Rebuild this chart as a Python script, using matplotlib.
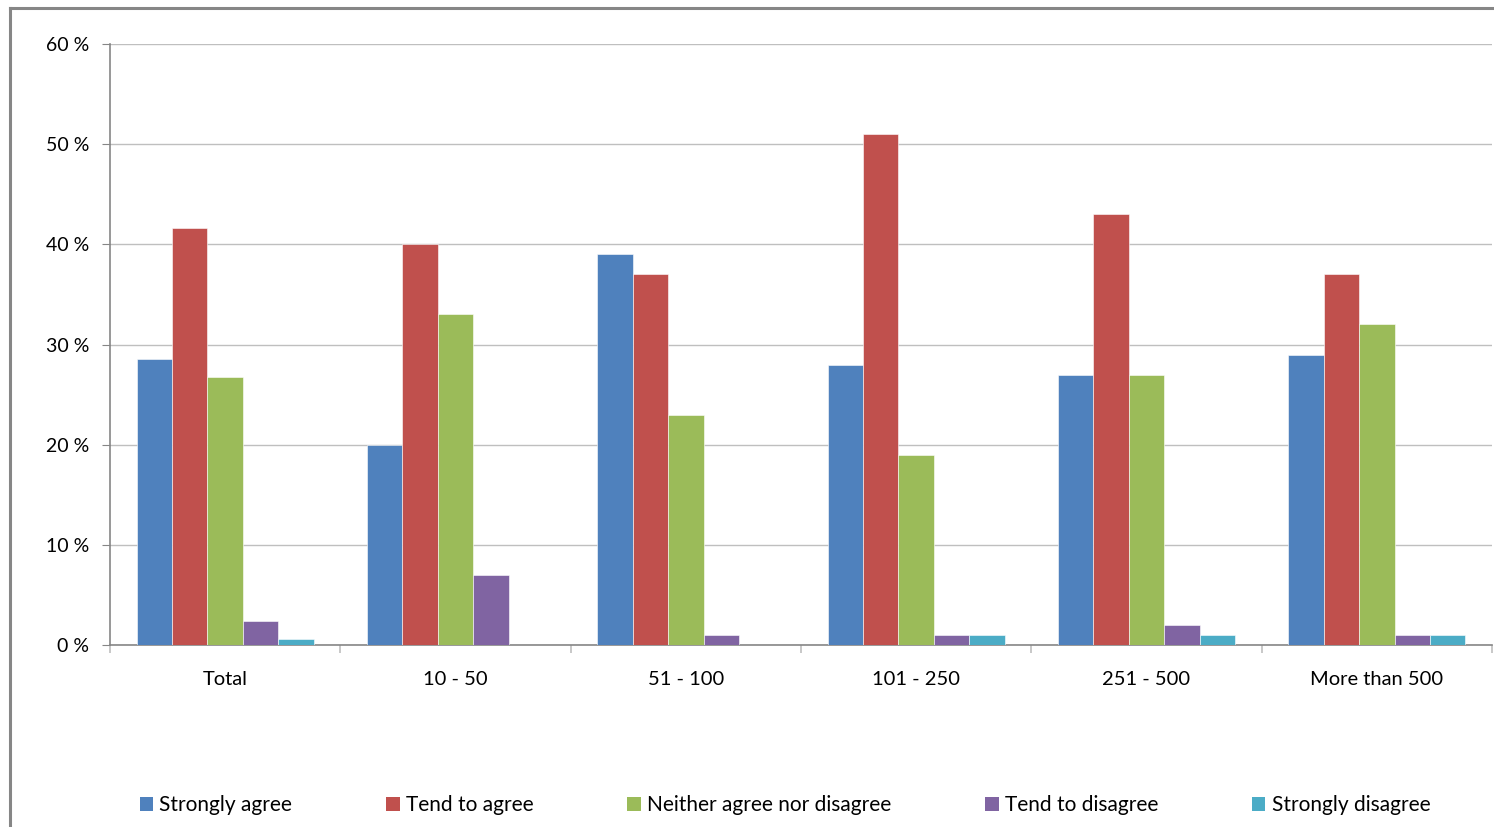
import numpy as np
import matplotlib.pyplot as plt
from matplotlib.patches import Patch
from matplotlib.lines import Line2D

categories = ['Total', '10 - 50', '51 - 100', '101 - 250', '251 - 500', 'More than 500']
series_names = ['Strongly agree', 'Tend to agree', 'Neither agree nor disagree',
                'Tend to disagree', 'Strongly disagree']
strongly_agree = [28.6, 20, 39, 28, 27, 29]
tend_to_agree = [41.6, 40, 37, 51, 43, 37]
neither = [26.8, 33, 23, 19, 27, 32]
tend_to_disagree = [2.4, 7, 1, 1, 2, 1]
strongly_disagree = [0.6, 0, 0, 1, 1, 1]
y_ticks = [0, 10, 20, 30, 40, 50, 60]

colors = ['#4F81BD', '#C0504D', '#9BBB59', '#8064A2', '#4BACC6']
values = [strongly_agree, tend_to_agree, neither, tend_to_disagree, strongly_disagree]

plt.rcParams['font.family'] = ['Lato', 'DejaVu Sans']

W, H = 1494, 827
fig = plt.figure(figsize=(W / 100, H / 100), dpi=100)
ax = fig.add_axes([110 / W, (H - 645) / H, (1492 - 110) / W, (645 - 44) / H])

n = len(series_names)
bw = 1 / (n + 1.5)
x = np.arange(len(categories))
for i, (vals, col) in enumerate(zip(values, colors)):
    offs = (i - (n - 1) / 2) * bw
    ax.bar(x + offs, vals, width=bw, color=col, edgecolor='white',
           linewidth=0.4, zorder=3)

ax.set_xlim(-0.5, len(categories) - 0.5)
ax.set_ylim(0, 60)
ax.set_yticks(y_ticks)
ax.set_yticklabels([f'{t} %' for t in y_ticks], fontsize=14)
ax.set_xticks(x)
ax.set_xticklabels(categories, fontsize=14.5)
ax.set_xticks(np.arange(len(categories) + 1) - 0.5, minor=True)

ax.grid(axis='y', color='#BFBFBF', linewidth=1, zorder=0)
for s in ['top', 'right']:
    ax.spines[s].set_visible(False)
for s in ['left', 'bottom']:
    ax.spines[s].set_color('#868686')
    ax.spines[s].set_linewidth(1.2)
ax.tick_params(axis='y', length=6, color='#868686', pad=9)
ax.tick_params(axis='x', which='major', length=0, pad=19)
ax.tick_params(axis='x', which='minor', length=6, color='#BFBFBF', width=1.2)

# outer chart frame (only left and top visible)
fig.add_artist(Line2D([10 / W, 10 / W], [0, (H - 8) / H], color='#868686',
                      linewidth=2.2, transform=fig.transFigure))
fig.add_artist(Line2D([10 / W, 1], [(H - 8) / H, (H - 8) / H], color='#868686',
                      linewidth=2.2, transform=fig.transFigure))

handles = [Patch(facecolor=c, edgecolor='none') for c in colors]
fig.legend(handles, series_names, loc='center', ncol=5,
           bbox_to_anchor=(785 / W, (H - 805) / H), frameon=False,
           fontsize=15, handlelength=0.65, handleheight=0.65,
           handletextpad=0.3, columnspacing=4.5)

fig.savefig('out.png', dpi=100)
